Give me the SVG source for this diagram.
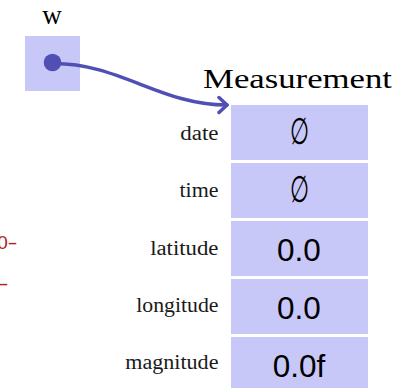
<svg xmlns="http://www.w3.org/2000/svg" width="400" height="388" viewBox="0 0 400 388">
  <style>
    .box { fill: #c8c8f8; }
    .lbl { font-family: "Liberation Serif", serif; font-size: 20px; fill: #1a1a1a; text-anchor: end; }
    .val { font-family: "Liberation Sans", Arial, sans-serif; font-size: 31.5px; fill: #000; text-anchor: middle; }
    .nil { font-family: "Liberation Serif", "DejaVu Serif", serif; font-size: 34px; fill: #000; text-anchor: middle; }
    .title { font-family: "Liberation Serif", serif; font-size: 27px; fill: #000; }
    .red { font-family: "Liberation Sans", Arial, sans-serif; font-size: 19px; fill: #b22222; }
    .conn { fill: none; stroke: #5050b4; stroke-width: 3.5; stroke-linecap: round; stroke-linejoin: round; }
  </style>
  <defs>
    <marker id="arr" markerUnits="userSpaceOnUse" markerWidth="20" markerHeight="20" refX="10" refY="10" orient="auto">
      <path d="M2,2.5 L10,10 L2,17.5" fill="none" stroke="#5050b4" stroke-width="3.5" stroke-linecap="round" stroke-linejoin="round"/>
    </marker>
  </defs>

  <g id="red-text">
    <text class="red" y="248.5"><tspan x="-2.7">0</tspan><tspan x="7.5" textLength="10" lengthAdjust="spacingAndGlyphs">-</tspan></text>
    <text class="red" x="-1.4" y="290" textLength="10" lengthAdjust="spacingAndGlyphs">-</text>
  </g>

  <g id="w">
    <text class="title" x="52" y="24" text-anchor="middle">w</text>
    <rect class="box" x="25" y="36" width="55" height="55"/>
    <circle cx="52.5" cy="62.5" r="8.8" fill="#5050b4"/>
  </g>

  <g id="measurement">
    <text class="title" x="203" y="88" style="font-size:28px" textLength="189" lengthAdjust="spacingAndGlyphs">Measurement</text>
    <g id="row-date">
      <rect class="box" x="231" y="105" width="137" height="55"/>
      <text class="lbl" x="218.5" y="139.5" textLength="38.3" lengthAdjust="spacingAndGlyphs">date</text>
      <text class="nil" x="0" y="11" transform="translate(299.5 132) scale(0.65 1.1)">∅</text>
    </g>
    <g id="row-time">
      <rect class="box" x="231" y="163" width="137" height="55"/>
      <text class="lbl" x="218.5" y="197" textLength="39" lengthAdjust="spacingAndGlyphs">time</text>
      <text class="nil" x="0" y="11" transform="translate(299.5 190) scale(0.65 1.1)">∅</text>
    </g>
    <g id="row-latitude">
      <rect class="box" x="231" y="221" width="137" height="55"/>
      <text class="lbl" x="218.5" y="255" textLength="68.3" lengthAdjust="spacingAndGlyphs">latitude</text>
      <text class="val" x="299" y="261">0.0</text>
    </g>
    <g id="row-longitude">
      <rect class="box" x="231" y="279" width="137" height="55"/>
      <text class="lbl" x="218.5" y="312" textLength="82.3" lengthAdjust="spacingAndGlyphs">longitude</text>
      <text class="val" x="299" y="319">0.0</text>
    </g>
    <g id="row-magnitude">
      <rect class="box" x="231" y="337" width="137" height="55"/>
      <text class="lbl" x="218.5" y="369" textLength="93.3" lengthAdjust="spacingAndGlyphs">magnitude</text>
      <text class="val" x="299" y="376.7">0.0f</text>
    </g>
  </g>

  <g id="connectors">
    <path class="conn" d="M52.5,63.5 C120,63 160,105 227,105" marker-end="url(#arr)"/>
  </g>
</svg>
